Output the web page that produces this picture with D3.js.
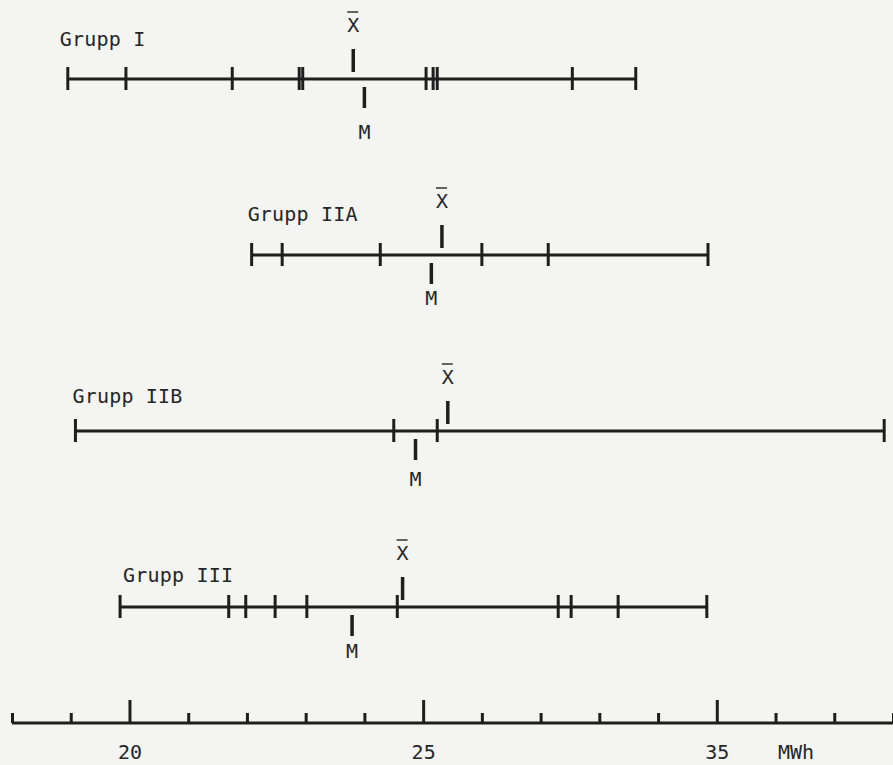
<!DOCTYPE html>
<html>
<head>
<meta charset="utf-8">
<script src="https://cdn.jsdelivr.net/npm/d3@7"></script>
<style>
  html, body { margin: 0; padding: 0; background: #f4f4f2; }
  svg { display: block; }
  text { font-family: "DejaVu Sans Mono", "Liberation Mono", monospace; fill: #262626; }
</style>
</head>
<body>
<svg id="chart" width="893" height="765"></svg>
<script>
// ---- data (MWh) ----
const groups = ["Grupp I", "Grupp IIA", "Grupp IIB", "Grupp III"];
const grupp1 = [18.95, 19.94, 21.75, 22.89, 22.95, 25.05, 25.17, 25.24, 27.54, 28.62];
const grupp2A = [22.08, 22.60, 24.27, 26.00, 27.13, 29.85];
const grupp2B = [19.08, 24.50, 25.24, 32.85];
const grupp3 = [19.84, 21.69, 21.98, 22.48, 23.02, 24.56, 27.30, 27.52, 28.32, 29.83];
const means = [23.81, 25.32, 25.42, 24.65];
const medians = [24.00, 25.14, 24.87, 23.79];
const axisMin = 18, axisMax = 33;
const minorTicks = d3.range(18, 34, 1);
const majorTicks = [20, 25, 30];
const tickLabels = ["20", "25", "35"];
const unitLabel = "MWh";

// ---- layout ----
const series = [grupp1, grupp2A, grupp2B, grupp3];
const labelDx = [-8, -4, -3, 3];
const labelDy = [-33, -34, -28, -25];
const mLabelDy = [60, 50, 55, 51];

const svg = d3.select("#chart");
const x = d3.scaleLinear().domain([axisMin, axisMax]).range([12, 893]);
const y = d3.scalePoint().domain(groups).range([79, 607]);
const ink = "#1e1e1e";

const g = svg.append("g");

groups.forEach((name, i) => {
  const vals = series[i];
  const gy = y(name);
  const row = g.append("g");
  // range line
  row.append("line")
    .attr("x1", x(d3.min(vals))).attr("x2", x(d3.max(vals)))
    .attr("y1", gy).attr("y2", gy)
    .attr("stroke", ink).attr("stroke-width", 2.8);
  // observation ticks
  row.selectAll("line.obs").data(vals).join("line")
    .attr("class", "obs")
    .attr("x1", d => x(d)).attr("x2", d => x(d))
    .attr("y1", gy - 12).attr("y2", gy + 11)
    .attr("stroke", ink).attr("stroke-width", 3);
  // group label
  row.append("text")
    .attr("x", x(d3.min(vals)) + labelDx[i])
    .attr("y", gy + labelDy[i])
    .attr("font-size", 20)
    .attr("letter-spacing", 0.2)
    .text(name);
  // mean marker
  const mx = x(means[i]);
  row.append("line")
    .attr("x1", mx).attr("x2", mx)
    .attr("y1", gy - 30).attr("y2", gy - 7)
    .attr("stroke", ink).attr("stroke-width", 3.5);
  row.append("text")
    .attr("x", mx).attr("y", gy - 47)
    .attr("text-anchor", "middle")
    .attr("font-size", 20)
    .text("X");
  row.append("line")
    .attr("x1", mx - 6).attr("x2", mx + 5)
    .attr("y1", gy - 67).attr("y2", gy - 67)
    .attr("stroke", "#333").attr("stroke-width", 1.5);
  // median marker
  const md = x(medians[i]);
  row.append("line")
    .attr("x1", md).attr("x2", md)
    .attr("y1", gy + 8).attr("y2", gy + 29)
    .attr("stroke", ink).attr("stroke-width", 3.5);
  row.append("text")
    .attr("x", md).attr("y", gy + mLabelDy[i])
    .attr("text-anchor", "middle")
    .attr("font-size", 20)
    .text("M");
});

// ---- bottom axis ----
const axisY = 723;
const axisG = svg.append("g").attr("transform", `translate(0,${axisY})`);
axisG.call(d3.axisTop(x).tickValues(minorTicks).tickSize(10).tickFormat("").tickSizeOuter(0));
axisG.select(".domain").remove();
axisG.selectAll(".tick line")
  .attr("stroke", ink).attr("stroke-width", 3)
  .attr("y2", d => majorTicks.includes(d) ? -23 : -10);
axisG.append("line")
  .attr("x1", x(axisMin)).attr("x2", x(axisMax))
  .attr("stroke", ink).attr("stroke-width", 3);

const labG = svg.append("g").attr("transform", `translate(0,${axisY})`);
labG.call(d3.axisBottom(x).tickValues(majorTicks).tickSize(0).tickPadding(0)
  .tickFormat((d, i) => tickLabels[i]));
labG.select(".domain").remove();
labG.selectAll(".tick text")
  .attr("y", 36).attr("dy", null)
  .attr("font-size", 20)
  .attr("font-family", "DejaVu Sans Mono, monospace")
  .attr("fill", "#262626");
labG.append("text")
  .attr("x", 796).attr("y", 36)
  .attr("text-anchor", "middle")
  .attr("font-size", 20)
  .text(unitLabel);
</script>
</body>
</html>
